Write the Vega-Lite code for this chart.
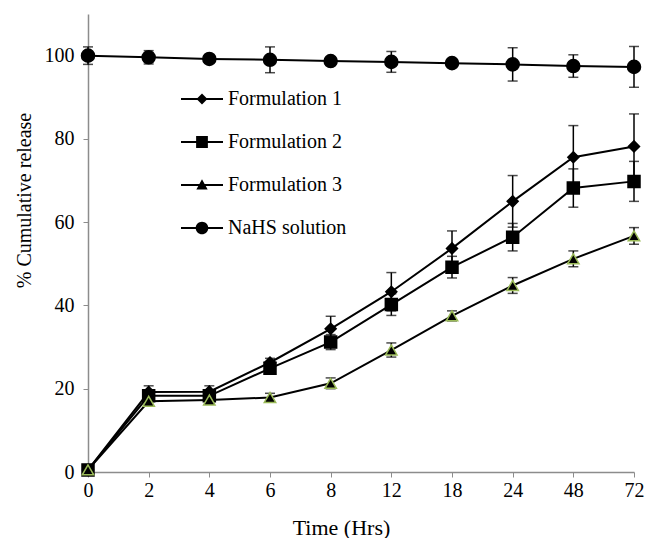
{
  "$schema": "https://vega.github.io/schema/vega-lite/v6.json",
  "width": 546,
  "height": 458,
  "autosize": "none",
  "padding": {"left": 88, "top": 14, "right": 14, "bottom": 66},
  "background": "white",
  "config": {
    "font": "Times New Roman, Liberation Serif, serif",
    "view": {"stroke": null},
    "axis": {"labelFont": "Times New Roman, Liberation Serif, serif", "titleFont": "Times New Roman, Liberation Serif, serif", "labelColor": "black", "titleColor": "black", "domainColor": "#8c8c8c", "tickColor": "#8c8c8c", "grid": false, "titleFontWeight": "normal"}
  },
  "data": {"values": [
    {"t": "0", "s": "NaHS solution", "v": 100, "e": 2.1},
    {"t": "2", "s": "NaHS solution", "v": 99.6, "e": 1.6},
    {"t": "4", "s": "NaHS solution", "v": 99.2, "e": 0.4},
    {"t": "6", "s": "NaHS solution", "v": 99.0, "e": 3.1},
    {"t": "8", "s": "NaHS solution", "v": 98.7, "e": 0.5},
    {"t": "12", "s": "NaHS solution", "v": 98.5, "e": 2.5},
    {"t": "18", "s": "NaHS solution", "v": 98.2, "e": 1.0},
    {"t": "24", "s": "NaHS solution", "v": 97.9, "e": 4.0},
    {"t": "48", "s": "NaHS solution", "v": 97.5, "e": 2.7},
    {"t": "72", "s": "NaHS solution", "v": 97.3, "e": 4.9},
    {"t": "0", "s": "Formulation 1", "v": 0.5, "e": 0},
    {"t": "2", "s": "Formulation 1", "v": 19.2, "e": 1.5},
    {"t": "4", "s": "Formulation 1", "v": 19.3, "e": 1.4},
    {"t": "6", "s": "Formulation 1", "v": 26.3, "e": 1.0},
    {"t": "8", "s": "Formulation 1", "v": 34.4, "e": 3.0},
    {"t": "12", "s": "Formulation 1", "v": 43.3, "e": 4.6},
    {"t": "18", "s": "Formulation 1", "v": 53.7, "e": 4.2},
    {"t": "24", "s": "Formulation 1", "v": 65.0, "e": 6.2},
    {"t": "48", "s": "Formulation 1", "v": 75.6, "e": 7.6},
    {"t": "72", "s": "Formulation 1", "v": 78.2, "e": 7.8},
    {"t": "0", "s": "Formulation 2", "v": 0.5, "e": 0},
    {"t": "2", "s": "Formulation 2", "v": 18.3, "e": 1.0},
    {"t": "4", "s": "Formulation 2", "v": 18.3, "e": 1.0},
    {"t": "6", "s": "Formulation 2", "v": 24.9, "e": 1.0},
    {"t": "8", "s": "Formulation 2", "v": 31.2, "e": 1.8},
    {"t": "12", "s": "Formulation 2", "v": 40.2, "e": 2.6},
    {"t": "18", "s": "Formulation 2", "v": 49.2, "e": 2.6},
    {"t": "24", "s": "Formulation 2", "v": 56.4, "e": 3.3},
    {"t": "48", "s": "Formulation 2", "v": 68.2, "e": 4.6},
    {"t": "72", "s": "Formulation 2", "v": 69.8, "e": 4.8},
    {"t": "0", "s": "Formulation 3", "v": 0.5, "e": 0},
    {"t": "2", "s": "Formulation 3", "v": 17.0, "e": 0.8},
    {"t": "4", "s": "Formulation 3", "v": 17.3, "e": 0.8},
    {"t": "6", "s": "Formulation 3", "v": 17.9, "e": 1.0},
    {"t": "8", "s": "Formulation 3", "v": 21.3, "e": 1.3},
    {"t": "12", "s": "Formulation 3", "v": 29.3, "e": 1.7},
    {"t": "18", "s": "Formulation 3", "v": 37.5, "e": 1.2},
    {"t": "24", "s": "Formulation 3", "v": 44.8, "e": 1.9},
    {"t": "48", "s": "Formulation 3", "v": 51.2, "e": 1.9},
    {"t": "72", "s": "Formulation 3", "v": 56.7, "e": 2.0}
  ]},
  "encoding": {
    "x": {
      "field": "t", "type": "ordinal", "sort": null,
      "scale": {"type": "point", "padding": 0},
      "axis": {"title": "Time (Hrs)", "labelAngle": 0, "labelFontSize": 20, "titleFontSize": 22, "tickSize": 5, "labelPadding": 3, "titlePadding": 17, "titleX": 253, "domainWidth": 1.5}
    },
    "y": {"field": "v", "type": "quantitative", "scale": {"domain": [0, 110], "nice": false},
      "axis": {"title": "% Cumulative release", "values": [0, 20, 40, 60, 80, 100], "labelFontSize": 20, "titleFontSize": 20, "tickSize": 5, "labelPadding": 9, "titlePadding": 10, "titleY": 186, "domainWidth": 1.5}}
  },
  "layer": [
    {
      "mark": {"type": "line", "color": "black", "strokeWidth": 2},
      "encoding": {
        "detail": {"field": "s"}
      }
    },
    {
      "mark": {"type": "errorbar", "ticks": {"size": 10, "thickness": 1.5}, "color": "black", "thickness": 1.5},
      "encoding": {
        "y": {"field": "v", "type": "quantitative", "title": "% Cumulative release"},
        "yError": {"field": "e"},
        "detail": {"field": "s"}
      }
    },
    {
      "mark": {"type": "point", "filled": true, "opacity": 1},
      "encoding": {
        "shape": {
          "condition": [
            {"test": "datum.s == 'Formulation 1'", "value": "diamond"},
            {"test": "datum.s == 'Formulation 2'", "value": "square"},
            {"test": "datum.s == 'Formulation 3'", "value": "triangle-up"}
          ],
          "value": "circle"
        },
        "size": {
          "condition": [
            {"test": "datum.s == 'Formulation 1'", "value": 121},
            {"test": "datum.s == 'Formulation 2'", "value": 144},
            {"test": "datum.s == 'Formulation 3'", "value": 130}
          ],
          "value": 170
        },
        "fill": {"value": "black"},
        "stroke": {
          "condition": {"test": "datum.s == 'Formulation 3'", "value": "#9bbb59"},
          "value": "black"
        },
        "strokeWidth": {"value": 1.5}
      }
    },
    {
      "transform": [{"filter": "datum.v < -1000"}],
      "mark": {"type": "point", "filled": true, "color": "black", "opacity": 1},
      "encoding": {
        "shape": {
          "field": "s", "type": "nominal",
          "scale": {
            "domain": ["Formulation 1", "Formulation 2", "Formulation 3", "NaHS solution"],
            "range": [
              "M-1,-0.05H1V0.05H-1ZM0,-0.26L0.26,0L0,0.26L-0.26,0Z",
              "M-1,-0.05H1V0.05H-1ZM-0.28,-0.28H0.28V0.28H-0.28Z",
              "M-1,-0.05H1V0.05H-1ZM0,-0.27L0.27,0.22H-0.27Z",
              "M-1,-0.05H1V0.05H-1ZM0.3,0A0.3,0.3,0,1,1,-0.3,0A0.3,0.3,0,1,1,0.3,0Z"
            ]
          },
          "legend": {
            "title": null, "orient": "none", "legendX": 93, "legendY": 64, "padding": 0,
            "labelFontSize": 20, "labelFont": "Times New Roman, Liberation Serif, serif", "labelColor": "black", "labelOffset": 5, "rowPadding": 12,
            "symbolSize": 1764, "symbolStrokeWidth": 0, "symbolFillColor": "black", "symbolOpacity": 1
          }
        }
      }
    }
  ]
}
